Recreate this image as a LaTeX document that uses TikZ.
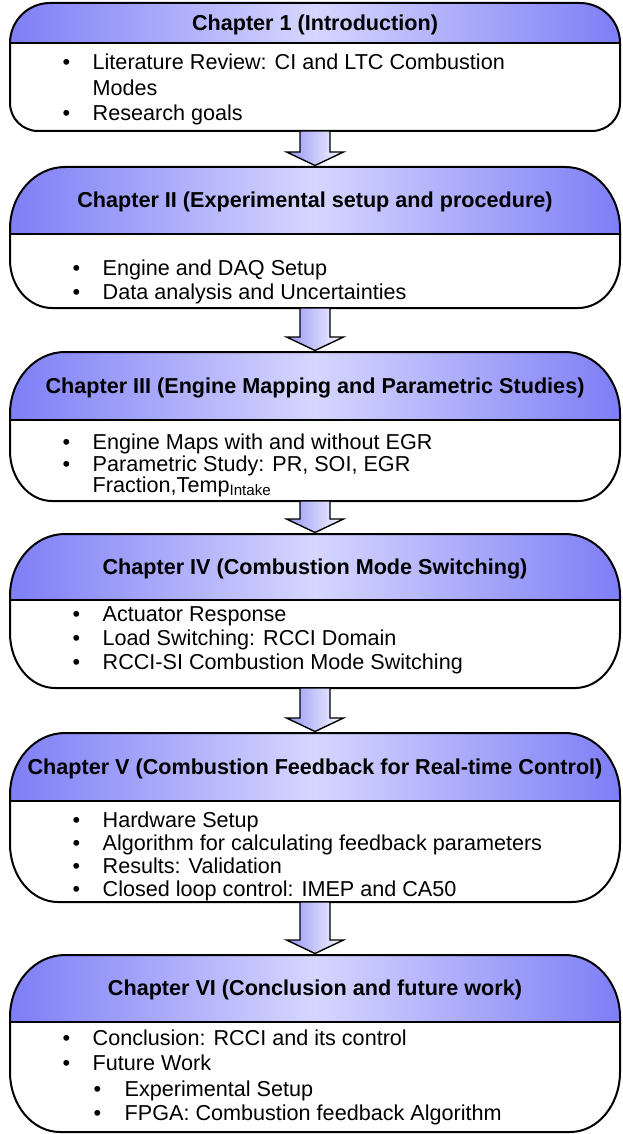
\documentclass[tikz,border=0pt]{standalone}
\usepackage{fontspec}
\setmainfont{Liberation Sans}
\usetikzlibrary{calc}
\definecolor{hdrdark}{RGB}{126,126,246}
\definecolor{hdrlight}{RGB}{214,214,255}
\definecolor{arrdark}{RGB}{150,150,245}
\definecolor{arrlight}{RGB}{248,248,255}
% #1 name, #2 top, #3 divider, #4 bottom, #5 header rx, #6 header ry, #7 body rx, #8 body ry
\newcommand{\chapshape}[8]{%
  \coordinate (#1top) at (315,-#2);
  \coordinate (#1bot) at (315,-#4);
  \shade[left color=hdrdark,right color=hdrdark,middle color=hdrlight]
    (10,-#3) -- (10,-#2-#6) arc[start angle=180,end angle=90,x radius=#5,y radius=#6]
    -- (620-#5,-#2) arc[start angle=90,end angle=0,x radius=#5,y radius=#6]
    -- (620,-#3) -- cycle;
  \draw[boxline]
    (10,-#3) -- (10,-#2-#6) arc[start angle=180,end angle=90,x radius=#5,y radius=#6]
    -- (620-#5,-#2) arc[start angle=90,end angle=0,x radius=#5,y radius=#6]
    -- (620,-#4+#8) arc[start angle=0,end angle=-90,x radius=#7,y radius=#8]
    -- (10+#7,-#4) arc[start angle=270,end angle=180,x radius=#7,y radius=#8]
    -- cycle;
  \draw[boxline] (10,-#3) -- (620,-#3);
}
% block arrow from (#1) to (#2)
\newcommand{\blockarrowdraw}[2]{%
  \path[blockarrow] let \p1=(#1), \p2=(#2) in
    (\x1-15,\y1) -- (\x1+15,\y1) -- (\x1+15,\y2+15) -- (\x1+28.5,\y2+15)
    -- (\x1,\y2+1.5) -- (\x1-28.5,\y2+15) -- (\x1-15,\y2+15) -- cycle;
}
\begin{document}
\begin{tikzpicture}[x=1pt,y=1pt,
  boxline/.style={draw=black,line width=2pt,line join=round},
  title/.style={anchor=base,font=\bfseries\fontsize{21.6}{25}\selectfont,inner sep=0pt},
  items/.style={anchor=base west,font=\fontsize{21.6}{24}\selectfont,inner sep=0pt,align=left},
  blockarrow/.style={shade,left color=arrdark,right color=arrlight,draw=black,line width=1.4pt,line join=miter}]
\useasboundingbox (0,0) rectangle (622,-1134);
\fill[white] (0,0) rectangle (622,-1134);

\chapshape{c1}{3}{43}{131}{40}{40}{28}{28}
\chapshape{c2}{167}{234}{308}{55}{62}{42}{48}
\chapshape{c3}{352}{420}{501}{55}{62}{42}{50}
\chapshape{c4}{534}{600}{688}{55}{62}{45}{55}
\chapshape{c5}{733}{801}{902}{55}{62}{48}{58}
\chapshape{c6}{955}{1022}{1132}{55}{62}{50}{60}

\node[title] (t1) at (315,-30.5) {Chapter 1 (Introduction)};
\node[title] (t2) at (315,-207.5) {Chapter II (Experimental setup and procedure)};
\node[title] (t3) at (315,-393.5) {Chapter III (Engine Mapping and Parametric Studies)};
\node[title] (t4) at (315,-574.5) {Chapter IV (Combustion Mode Switching)};
\node[title] (t5) at (315,-774.5) {Chapter V (Combustion Feedback for Real-time Control)};
\node[title] (t6) at (315,-995.5) {Chapter VI (Conclusion and future work)};

\node[items] (l1) at (62.5,-70) {\begin{tabular}[t]{@{}p{30pt}@{}l@{}}
\textbullet & Literature Review: CI and LTC Combustion\\[1.5pt]
 & Modes\\[1.5pt]
\textbullet & Research goals\end{tabular}};
\node[items] (l2) at (72.5,-275) {\begin{tabular}[t]{@{}p{30pt}@{}l@{}}
\textbullet & Engine and DAQ Setup\\
\textbullet & Data analysis and Uncertainties\end{tabular}};
\node[items] (l3) at (62.5,-449) {\begin{tabular}[t]{@{}p{30pt}@{}l@{}}
\textbullet & Engine Maps with and without EGR\\[-2pt]
\textbullet & Parametric Study: PR, SOI, EGR\\[-3pt]
 & Fraction,Temp\textsubscript{Intake}\end{tabular}};
\node[items] (l4) at (72.5,-621) {\begin{tabular}[t]{@{}p{30pt}@{}l@{}}
\textbullet & Actuator Response\\
\textbullet & Load Switching: RCCI Domain\\
\textbullet & RCCI-SI Combustion Mode Switching\end{tabular}};
\node[items] (l5) at (72.5,-827) {\begin{tabular}[t]{@{}p{30pt}@{}l@{}}
\textbullet & Hardware Setup\\[-1pt]
\textbullet & Algorithm for calculating feedback parameters\\[-1pt]
\textbullet & Results: Validation\\[-1pt]
\textbullet & Closed loop control: IMEP and CA50\end{tabular}};
\node[items] (l6) at (62.5,-1045) {\begin{tabular}[t]{@{}p{30pt}@{}l@{}}
\textbullet & Conclusion: RCCI and its control\\[1pt]
\textbullet & Future Work\\[2pt]
 & \hspace{1pt}\makebox[31pt][l]{\textbullet}Experimental Setup\\[0pt]
 & \hspace{1pt}\makebox[31pt][l]{\textbullet}FPGA: Combustion feedback Algorithm\end{tabular}};

\blockarrowdraw{c1bot}{c2top}
\blockarrowdraw{c2bot}{c3top}
\blockarrowdraw{c3bot}{c4top}
\blockarrowdraw{c4bot}{c5top}
\blockarrowdraw{c5bot}{c6top}
\end{tikzpicture}
\end{document}
